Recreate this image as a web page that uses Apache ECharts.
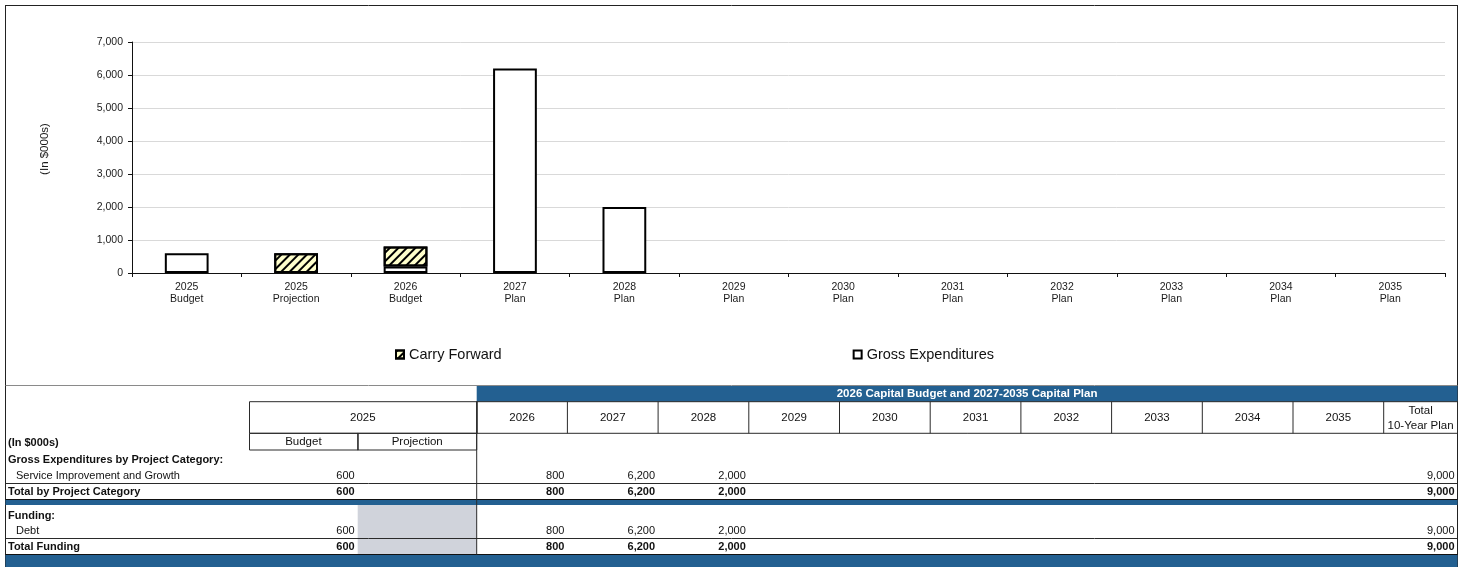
<!DOCTYPE html>
<html>
<head>
<meta charset="utf-8">
<script src="https://cdn.jsdelivr.net/npm/echarts@6/dist/echarts.min.js"></script>
<style>
  html, body { margin: 0; padding: 0; background: #fff; }
  #chart { width: 1465px; height: 567px; }
</style>
</head>
<body>
<div id="chart"></div>
<script>
// Bar chart categories and stacked series values (in $000s)
const chartCategories = ['2025\nBudget', '2025\nProjection', '2026\nBudget', '2027\nPlan', '2028\nPlan',
  '2029\nPlan', '2030\nPlan', '2031\nPlan', '2032\nPlan', '2033\nPlan', '2034\nPlan', '2035\nPlan'];
const grossExpenditures = [600, null, 200, 6200, 2000, null, null, null, null, null, null, null];
const carryForward = [null, 600, 600, null, null, null, null, null, null, null, null, null];

// Table: columns are 2025 Budget, 2025 Projection, 2026..2035, Total 10-Year Plan
const planYears = ['2026', '2027', '2028', '2029', '2030', '2031', '2032', '2033', '2034', '2035'];
const serviceImprovementRow = [600, null, 800, 6200, 2000, null, null, null, null, null, null, null, 9000];
const totalByCategoryRow = [600, null, 800, 6200, 2000, null, null, null, null, null, null, null, 9000];
const debtRow = [600, null, 800, 6200, 2000, null, null, null, null, null, null, null, 9000];
const totalFundingRow = [600, null, 800, 6200, 2000, null, null, null, null, null, null, null, 9000];

const FONT = '"Liberation Sans", Arial, sans-serif';
const BLUE = '#236091';
const LINE = '#2a2a2a';

const fmt = v => (v === null || v === undefined) ? '' : v.toLocaleString('en-US');

// ---- table geometry ----
const L = 5.5, R = 1457.5;
const budgetL = 249, projL = 357.7, planL = 476.7, colW = 90.7, totalL = planL + 10 * colW;
const colRights = [projL, planL];
for (let i = 1; i <= 10; i++) colRights.push(planL + i * colW);
colRights.push(R);

const g = [];
function hline(y, x1, x2, color, w) {
  g.push({ type: 'line', silent: true, shape: { x1, y1: y, x2, y2: y }, style: { stroke: color || LINE, lineWidth: w || 1 } });
}
function vline(x, y1, y2, color, w) {
  g.push({ type: 'line', silent: true, shape: { x1: x, y1, x2: x, y2 }, style: { stroke: color || LINE, lineWidth: w || 1 } });
}
function rect(x, y, w, h, fill, stroke) {
  g.push({ type: 'rect', silent: true, shape: { x, y, width: w, height: h },
    style: { fill: fill || 'none', stroke: stroke || null, lineWidth: 1 } });
}
function text(str, x, y, opts) {
  opts = opts || {};
  g.push({ type: 'text', silent: true, x, y, rotation: opts.rotation || 0,
    style: { text: str, fill: opts.color || '#111', fontSize: opts.size || 11, fontWeight: opts.bold ? 'bold' : 'normal',
      fontFamily: FONT, align: opts.align || 'left', verticalAlign: 'middle', lineHeight: opts.lineHeight } });
}

// Frame around chart and table
hline(5.5, L, R, '#222');
vline(L, 5, 567, '#222');
vline(R, 5, 567, '#222');
hline(385.5, L, R, '#8a8a8a');

// Y axis title
text('(In $000s)', 45, 149, { rotation: Math.PI / 2, align: 'center', size: 11.5, color: '#1a1a1a' });

// Title band over the plan columns
rect(planL, 386, R - planL, 15.7, BLUE);
text('2026 Capital Budget and 2027-2035 Capital Plan', (planL + R) / 2, 394, { bold: true, color: '#fff', align: 'center', size: 11.5 });

// Header cells
rect(budgetL + 0.5, 401.7, planL - budgetL, 31.6, null, LINE);
text('2025', (budgetL + planL) / 2, 417.5, { align: 'center', size: 11.5 });
rect(budgetL + 0.5, 433.3, projL - budgetL, 16.7, null, LINE);
rect(projL, 433.3, planL - projL, 16.7, null, LINE);
text('Budget', (budgetL + projL) / 2, 442, { align: 'center', size: 11.5 });
text('Projection', (projL + planL) / 2, 442, { align: 'center', size: 11.5 });
rect(planL, 401.7, R - planL, 31.6, null, LINE);
planYears.forEach((y, i) => {
  const x0 = planL + i * colW;
  vline(x0 + colW, 401.7, 433.3);
  text(y, x0 + colW / 2, 417.5, { align: 'center', size: 11.5 });
});
text('Total\n10-Year Plan', (totalL + R) / 2, 418.5, { align: 'center', lineHeight: 15, size: 11.5 });

// Row labels
text('(In $000s)', 8, 442.7, { bold: true });
text('Gross Expenditures by Project Category:', 8, 460, { bold: true });
text('Service Improvement and Growth', 16, 476);
text('Total by Project Category', 8, 491.7, { bold: true });
text('Funding:', 8, 516, { bold: true });
text('Debt', 16, 530.7);
text('Total Funding', 8, 546.7, { bold: true });

// Shaded projection cell in funding block
rect(projL, 505, planL - projL, 49, '#d0d3db');

// Rule lines and bands
hline(483.5, L, R);
rect(L, 499.5, R - L, 5.5, BLUE);
hline(499.5, L, R, '#111', 1.2);
hline(538.5, L, R);
hline(554.5, L, R, '#111', 1.2);
rect(L, 555, R - L, 12, BLUE);
vline(planL, 401.7, 554.5);

// Row values, right-aligned in their columns
function valueRow(row, y, bold) {
  row.forEach((v, i) => {
    if (v === null) return;
    text(fmt(v), colRights[i] - 3, y, { align: 'right', bold });
  });
}
valueRow(serviceImprovementRow, 476, false);
valueRow(totalByCategoryRow, 491.7, true);
valueRow(debtRow, 530.7, false);
valueRow(totalFundingRow, 546.7, true);

const chart = echarts.init(document.getElementById('chart'), null, { renderer: 'canvas' });
chart.setOption({
  animation: false,
  backgroundColor: '#fff',
  textStyle: { fontFamily: FONT },
  grid: { left: 132, right: 20, top: 42, bottom: 294 },
  legend: {
    data: ['Carry Forward', 'Gross Expenditures'],
    left: 395, top: 347, padding: 0,
    itemWidth: 8, itemHeight: 8, itemGap: 351,
    icon: 'rect',
    textStyle: { fontSize: 14.5, color: '#111', fontFamily: FONT }
  },
  xAxis: {
    type: 'category',
    data: chartCategories,
    axisLine: { lineStyle: { color: '#111', width: 1 } },
    axisTick: { show: true, length: 4, lineStyle: { color: '#111' } },
    axisLabel: { interval: 0, fontSize: 10.5, lineHeight: 12, color: '#1a1a1a', margin: 8, fontFamily: FONT }
  },
  yAxis: {
    type: 'value',
    min: 0, max: 7000, interval: 1000,
    axisLine: { show: true, lineStyle: { color: '#111', width: 1 } },
    axisTick: { show: true, length: 4, lineStyle: { color: '#111' } },
    axisLabel: { fontSize: 10.5, color: '#1a1a1a', margin: 9, fontFamily: FONT, formatter: v => fmt(v) },
    splitLine: { show: true, lineStyle: { color: '#d9d9d9', width: 1 } }
  },
  series: [
    {
      name: 'Gross Expenditures',
      type: 'bar',
      stack: 'total',
      barWidth: '40%',
      data: grossExpenditures,
      itemStyle: { color: '#ffffff', borderColor: '#000', borderWidth: 2 }
    },
    {
      name: 'Carry Forward',
      type: 'bar',
      stack: 'total',
      barWidth: '40%',
      data: carryForward,
      itemStyle: {
        color: '#ffffcc', borderColor: '#000', borderWidth: 2,
        decal: { symbol: 'rect', symbolSize: 1, color: '#000', dashArrayX: [1, 0], dashArrayY: [2, 3.5], rotation: -Math.PI / 4 }
      }
    }
  ],
  graphic: { elements: g }
});
</script>
</body>
</html>
